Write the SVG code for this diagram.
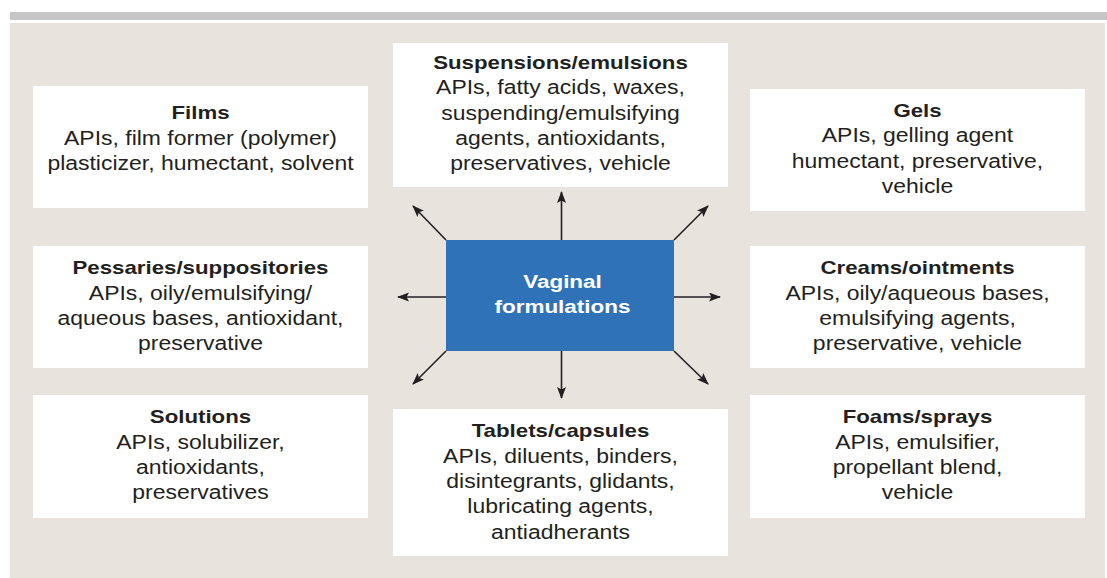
<svg xmlns="http://www.w3.org/2000/svg" width="1107" height="578" viewBox="0 0 1107 578">
  <style>
    .box { fill: #ffffff; }
    .t { font-family: "Liberation Sans", Arial, sans-serif; font-size: 19.3px; fill: #231f20; text-anchor: middle; }
    .b { font-weight: bold; font-size: 18.7px; }
    .w { fill: #ffffff; font-weight: bold; font-size: 18.9px; }
    .conn { stroke: #231f20; stroke-width: 1.6; fill: none; marker-end: url(#ah); }
  </style>
  <defs>
    <marker id="ah" markerUnits="userSpaceOnUse" markerWidth="12" markerHeight="10" refX="11" refY="4.5" orient="auto">
      <path d="M0,0 L12,4.5 L0,9 L2.5,4.5 z" fill="#231f20"/>
    </marker>
  </defs>
  <rect x="0" y="0" width="1107" height="578" fill="#ffffff"/>
  <rect x="10" y="12" width="1097" height="8" fill="#c6c6c6"/>
  <rect x="10" y="23" width="1095" height="555" fill="#e8e3dd"/>

  <g id="connectors">
    <line class="conn" x1="561.5" y1="240" x2="561.5" y2="192"/>
    <line class="conn" x1="561.5" y1="351" x2="561.5" y2="398"/>
    <line class="conn" x1="446" y1="297" x2="398" y2="297"/>
    <line class="conn" x1="674" y1="297" x2="720" y2="297"/>
    <line class="conn" x1="446" y1="240" x2="413" y2="206"/>
    <line class="conn" x1="674" y1="240" x2="708" y2="206"/>
    <line class="conn" x1="446" y1="351" x2="413" y2="384"/>
    <line class="conn" x1="674" y1="351" x2="708" y2="384"/>
  </g>

  <g id="center">
    <rect x="446" y="240" width="228" height="111" fill="#3072b8"/>
    <g transform="translate(562.5 0) scale(1.19 1)">
      <text class="t w" x="0" y="288.5">Vaginal</text>
      <text class="t w" x="0" y="313.5">formulations</text>
    </g>
  </g>

  <g id="films">
    <rect class="box" x="33" y="86" width="335" height="122"/>
    <g transform="translate(200.5 0) scale(1.19 1)">
      <text class="t b" x="0" y="119.5">Films</text>
      <text class="t" x="0" y="145">APIs, film former (polymer)</text>
      <text class="t" x="0" y="170.5">plasticizer, humectant, solvent</text>
    </g>
  </g>

  <g id="suspensions">
    <rect class="box" x="393" y="43" width="335" height="144"/>
    <g transform="translate(560.5 0) scale(1.19 1)">
      <text class="t b" x="0" y="69">Suspensions/emulsions</text>
      <text class="t" x="0" y="94.5">APIs, fatty acids, waxes,</text>
      <text class="t" x="0" y="119.8">suspending/emulsifying</text>
      <text class="t" x="0" y="145">agents, antioxidants,</text>
      <text class="t" x="0" y="170.3">preservatives, vehicle</text>
    </g>
  </g>

  <g id="gels">
    <rect class="box" x="750" y="89" width="335" height="122"/>
    <g transform="translate(917.5 0) scale(1.19 1)">
      <text class="t b" x="0" y="117">Gels</text>
      <text class="t" x="0" y="142.5">APIs, gelling agent</text>
      <text class="t" x="0" y="168">humectant, preservative,</text>
      <text class="t" x="0" y="193.3">vehicle</text>
    </g>
  </g>

  <g id="pessaries">
    <rect class="box" x="33" y="246" width="335" height="122"/>
    <g transform="translate(200.5 0) scale(1.19 1)">
      <text class="t b" x="0" y="274.3">Pessaries/suppositories</text>
      <text class="t" x="0" y="299.6">APIs, oily/emulsifying/</text>
      <text class="t" x="0" y="325">aqueous bases, antioxidant,</text>
      <text class="t" x="0" y="350.2">preservative</text>
    </g>
  </g>

  <g id="creams">
    <rect class="box" x="750" y="246" width="335" height="122"/>
    <g transform="translate(917.5 0) scale(1.19 1)">
      <text class="t b" x="0" y="274.3">Creams/ointments</text>
      <text class="t" x="0" y="299.6">APIs, oily/aqueous bases,</text>
      <text class="t" x="0" y="325">emulsifying agents,</text>
      <text class="t" x="0" y="350.2">preservative, vehicle</text>
    </g>
  </g>

  <g id="solutions">
    <rect class="box" x="33" y="395" width="335" height="123"/>
    <g transform="translate(200.5 0) scale(1.19 1)">
      <text class="t b" x="0" y="423.3">Solutions</text>
      <text class="t" x="0" y="448.6">APIs, solubilizer,</text>
      <text class="t" x="0" y="474">antioxidants,</text>
      <text class="t" x="0" y="499.2">preservatives</text>
    </g>
  </g>

  <g id="tablets">
    <rect class="box" x="393" y="409" width="335" height="147"/>
    <g transform="translate(560.5 0) scale(1.19 1)">
      <text class="t b" x="0" y="437.5">Tablets/capsules</text>
      <text class="t" x="0" y="462.8">APIs, diluents, binders,</text>
      <text class="t" x="0" y="488.1">disintegrants, glidants,</text>
      <text class="t" x="0" y="513.4">lubricating agents,</text>
      <text class="t" x="0" y="538.7">antiadherants</text>
    </g>
  </g>

  <g id="foams">
    <rect class="box" x="750" y="395" width="335" height="123"/>
    <g transform="translate(917.5 0) scale(1.19 1)">
      <text class="t b" x="0" y="423.3">Foams/sprays</text>
      <text class="t" x="0" y="448.6">APIs, emulsifier,</text>
      <text class="t" x="0" y="474">propellant blend,</text>
      <text class="t" x="0" y="499.2">vehicle</text>
    </g>
  </g>
</svg>
